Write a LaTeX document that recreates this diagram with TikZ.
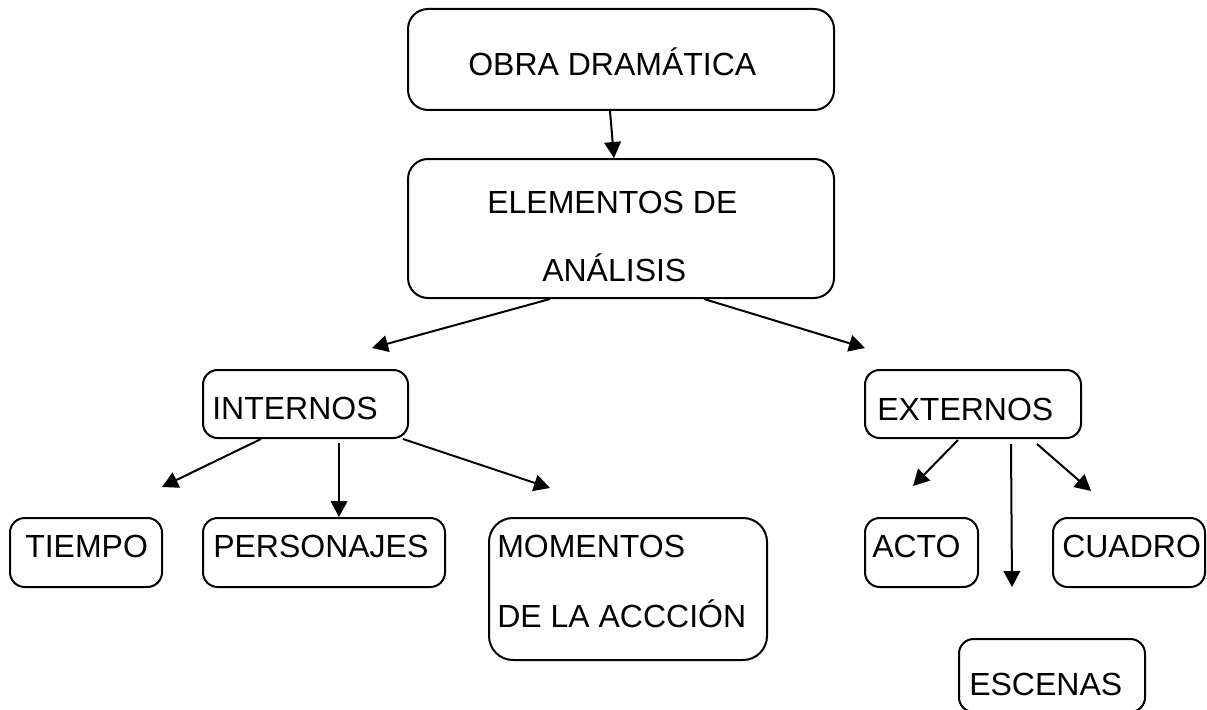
\documentclass[tikz,border=0pt]{standalone}
\usepackage{fontspec}
\setmainfont{Liberation Sans}
\usetikzlibrary{fit,calc,arrows.meta}
\begin{document}
\begin{tikzpicture}[x=0.75pt,y=-0.75pt,
  box/.style={draw=black, line width=1.5pt, rectangle, inner sep=0pt, rounded corners=#1},
  box/.default=11pt,
  txt/.style={inner sep=0pt, anchor=base west, font=\fontsize{24}{28}\selectfont},
  arr/.style={line width=1.5pt, -{Triangle[length=12pt,width=12.5pt]}}]
\useasboundingbox (0,0) rectangle (1207,710);
\begin{scope}
\clip (0,0) rectangle (1207,710);
% boxes
\node[box=15pt, fit={(408,9) (834,110)}] (obra) {};
\node[box=15pt, fit={(408,159) (834,298)}] (elem) {};
\node[box, fit={(203,370) (408,438)}] (int) {};
\node[box, fit={(865,370) (1081,438)}] (ext) {};
\node[box, fit={(10,518) (162,587)}] (tiempo) {};
\node[box, fit={(203,518) (445,587)}] (pers) {};
\node[box=18pt, fit={(489,518) (767,660)}] (mom) {};
\node[box, fit={(865,518) (978,587)}] (acto) {};
\node[box, fit={(1053,518) (1205,587)}] (cuadro) {};
\node[box, fit={(959,639) (1145,712)}] (escenas) {};
\end{scope}
% texts
\node[txt] (obra-t) at (468,75) {OBRA DRAMÁTICA};
\node[txt] (elem-t1) at (487,213) {ELEMENTOS DE};
\node[txt] (elem-t2) at (542,281) {ANÁLISIS};
\node[txt] (int-t) at (212,419) {INTERNOS};
\node[txt] (ext-t) at (877,420) {EXTERNOS};
\node[txt] (tiempo-t) at (25,557) {TIEMPO};
\node[txt] (pers-t) at (213,557) {PERSONAJES};
\node[txt] (mom-t1) at (497,557) {MOMENTOS};
\node[txt] (mom-t2) at (497,627) {DE LA ACCCIÓN};
\node[txt] (acto-t) at (872,557) {ACTO};
\node[txt] (cuadro-t) at (1062,557) {CUADRO};
\node[txt] (escenas-t) at (969,695) {ESCENAS};
% free arrow ends
\coordinate (cI) at (372,348);
\coordinate (cE) at (865,348);
\coordinate (cT) at (162,487);
\coordinate (cM) at (550,488);
\coordinate (cA) at (913,486);
\coordinate (cS) at (1012,587);
\coordinate (cC) at (1091,491);
% connectors
\draw[arr] ($(obra.south west)+(203,0)$) -- ($(elem.north west)+(207,0)$);
\draw[arr] ($(elem.south west)+(143,0)$) -- (cI);
\draw[arr] ($(elem.south west)+(297,0)$) -- (cE);
\draw[arr] ($(int.south west)+(59,0)$) -- (cT);
\draw[arr] ($(int.south west)+(137,4)$) -- ($(pers.north west)+(137,0)$);
\draw[arr] ($(int.south west)+(201,0)$) -- (cM);
\draw[arr] ($(ext.south west)+(94,1)$) -- (cA);
\draw[arr] ($(ext.south west)+(147,5)$) -- (cS);
\draw[arr] ($(ext.south west)+(173,5)$) -- (cC);
\end{tikzpicture}
\end{document}
